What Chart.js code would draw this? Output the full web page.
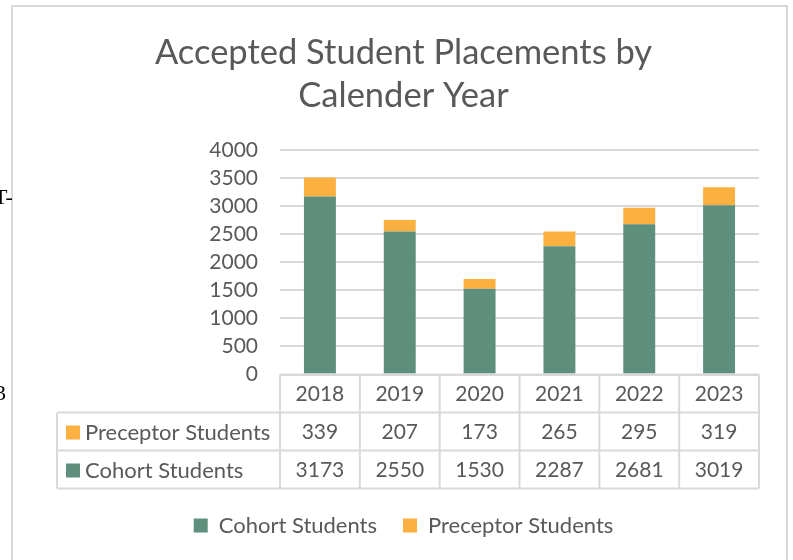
<!DOCTYPE html>
<html>
<head>
<meta charset="utf-8">
<script src="https://cdn.jsdelivr.net/npm/chart.js@4/dist/chart.umd.min.js"></script>
<style>
  html, body { margin: 0; padding: 0; background: #fff; overflow: hidden; }
  #wrap { position: relative; width: 793px; height: 560px; }
  #chart { position: absolute; left: 0; top: 0; }
  .frag { position: absolute; font: 22px "Liberation Serif", serif; color: #000; }
</style>
</head>
<body>
<div id="wrap">
  <canvas id="chart" width="793" height="560"></canvas>
  <span class="frag" style="left:-6px; top:184px;">T-</span>
  <span class="frag" style="left:-5px; top:380px;">3</span>
</div>
<script>
// Accepted student placements — stacked bars with an Excel-style data table
const years = ['2018', '2019', '2020', '2021', '2022', '2023'];
const cohortStudents = [3173, 2550, 1530, 2287, 2681, 3019];
const preceptorStudents = [339, 207, 173, 265, 295, 319];
const yTicks = [0, 500, 1000, 1500, 2000, 2500, 3000, 3500, 4000];

const GREEN = '#5d8f7c';
const ORANGE = '#fbb040';
const TEXT = '#595959';
const LINE = '#d9d9d9';
const FONT = 'Lato';

// frame around the chart object
const framePlugin = {
    id: 'frame',
    beforeDraw(chart) {
        const ctx = chart.ctx;
        ctx.save();
        ctx.strokeStyle = LINE;
        ctx.lineWidth = 2;
        ctx.strokeRect(12, 6, 775, 570);
        ctx.restore();
    }
};

// data table under the plot, columns follow the x scale
const tablePlugin = {
    id: 'dataTable',
    afterDraw(chart) {
        const ctx = chart.ctx;
        const xs = chart.scales.x;
        const top = chart.chartArea.bottom;
        const rowH = 38;
        const step = xs.width / years.length;
        const left = xs.left, right = xs.right;
        const labelLeft = 57;
        const rows = [
            { name: 'Preceptor Students', color: ORANGE, data: preceptorStudents },
            { name: 'Cohort Students', color: GREEN, data: cohortStudents },
        ];
        ctx.save();
        ctx.strokeStyle = LINE;
        ctx.lineWidth = 2;
        ctx.beginPath();
        ctx.moveTo(left, top); ctx.lineTo(right, top);
        for (let r = 1; r <= 3; r++) {
            ctx.moveTo(labelLeft, top + r * rowH); ctx.lineTo(right, top + r * rowH);
        }
        ctx.moveTo(labelLeft, top + rowH); ctx.lineTo(labelLeft, top + 3 * rowH);
        for (let i = 0; i <= years.length; i++) {
            const x = left + i * step;
            ctx.moveTo(x, top); ctx.lineTo(x, top + 3 * rowH);
        }
        ctx.stroke();

        ctx.fillStyle = TEXT;
        ctx.textBaseline = 'middle';
        ctx.textAlign = 'center';
        ctx.font = '21px ' + FONT;
        years.forEach((y, i) => {
            ctx.fillText(y, xs.getPixelForValue(i), top + rowH / 2 + 1);
        });
        rows.forEach((row, r) => {
            const cy = top + (r + 1.5) * rowH + 1;
            ctx.fillStyle = row.color;
            ctx.fillRect(66, cy - 7, 14, 14);
            ctx.fillStyle = TEXT;
            ctx.textAlign = 'left';
            ctx.font = '22px ' + FONT;
            ctx.fillText(row.name, 85, cy);
            ctx.textAlign = 'center';
            ctx.font = '21px ' + FONT;
            row.data.forEach((v, i) => {
                ctx.fillText(String(v), xs.getPixelForValue(i), cy);
            });
        });
        ctx.restore();
    }
};

new Chart(document.getElementById('chart'), {
    type: 'bar',
    data: {
        labels: years,
        datasets: [
            { label: 'Cohort Students', data: cohortStudents, backgroundColor: GREEN, barPercentage: 0.8, categoryPercentage: 0.5 },
            { label: 'Preceptor Students', data: preceptorStudents, backgroundColor: ORANGE, barPercentage: 0.8, categoryPercentage: 0.5 },
        ]
    },
    options: {
        responsive: false,
        animation: false,
        devicePixelRatio: 1,
        layout: { padding: { left: 48, right: 34, top: 0, bottom: 13.5 } },
        scales: {
            x: {
                stacked: true,
                grid: { display: false },
                border: { display: false },
                ticks: { display: false },
                afterFit: s => { s.height = 114; },
            },
            y: {
                stacked: true,
                min: 0,
                max: 4000,
                afterBuildTicks: s => { s.ticks = yTicks.map(v => ({ value: v })); },
                grid: { color: LINE, lineWidth: 2, drawTicks: false },
                border: { display: false },
                ticks: { color: TEXT, font: { family: FONT, size: 21 }, padding: 22, autoSkip: false, callback: v => String(v) },
                afterFit: s => { s.width = 232; },
            }
        },
        plugins: {
            title: {
                display: true,
                text: ['Accepted Student Placements by', 'Calender Year'],
                color: TEXT,
                font: { family: FONT, size: 34.5, weight: 'normal', lineHeight: 1.25 },
                padding: { top: 31, bottom: 33 },
            },
            legend: {
                position: 'bottom',
                labels: {
                    color: TEXT,
                    font: { family: FONT, size: 22 },
                    boxWidth: 14,
                    boxHeight: 14,
                    padding: 26,
                },
            },
            tooltip: { enabled: false },
        }
    },
    plugins: [framePlugin, tablePlugin]
});
</script>
</body>
</html>
